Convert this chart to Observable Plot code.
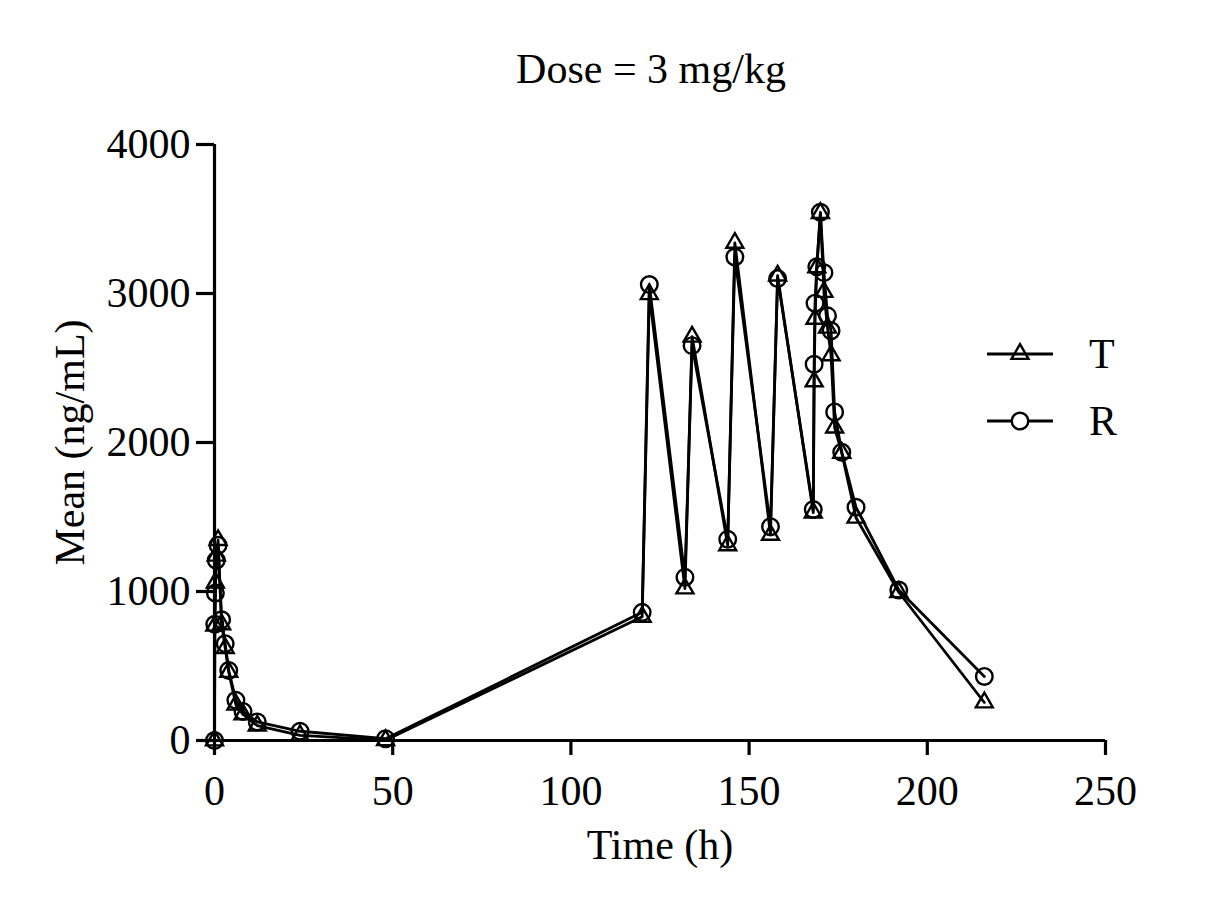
<!DOCTYPE html>
<html>
<head>
<meta charset="utf-8">
<script src="https://cdn.jsdelivr.net/npm/d3@7"></script>
<script src="https://cdn.jsdelivr.net/npm/@observablehq/plot@0.6"></script>
<style>
  html, body { margin: 0; padding: 0; background: #fff; }
  body { font-family: "Liberation Serif", "Times New Roman", serif; color: #000; }
  #wrap { position: relative; width: 1229px; height: 910px; overflow: hidden; }
  #title { position: absolute; left: 351px; top: 48px; width: 600px; text-align: center; font-size: 42px; line-height: 42px; }
  #chart { position: absolute; left: 0; top: 100px; }
  #legend { position: absolute; left: 987px; top: 334px; }
  .row { display: flex; align-items: center; height: 40px; margin-bottom: 27px; }
  .row span { font-size: 42px; line-height: 40px; margin-left: 36px; }
</style>
</head>
<body>
<div id="wrap">
  <div id="title">Dose = 3 mg/kg</div>
  <div id="chart"></div>
  <div id="legend"></div>
</div>
<script>
// Sampling times (h): single dose, then q12h dosing from 120 h
const times = [0, 0.083, 0.25, 0.5, 1, 2, 3, 4, 6, 8, 12, 24, 48,
  120, 122, 132, 134, 144, 146, 156, 158,
  168, 168.25, 168.5, 169, 170, 171, 172, 173, 174, 176, 180, 192, 216];

// Mean plasma concentration (ng/mL), test formulation
const meanT = [0, 770, 1060, 1240, 1345, 780, 620, 460, 240, 175, 100, 35, 2,
  830, 2995, 1020, 2710, 1310, 3340, 1380, 3120,
  1530, 2410, 2830, 3175, 3540, 3010, 2770, 2585, 2100, 1930, 1495, 995, 255];

// Mean plasma concentration (ng/mL), reference formulation
const meanR = [0, 780, 990, 1210, 1310, 810, 650, 470, 270, 195, 125, 62, 12,
  860, 3060, 1095, 2650, 1350, 3245, 1435, 3100,
  1550, 2525, 2935, 3180, 3545, 3140, 2850, 2750, 2205, 1935, 1565, 1010, 430];

const seriesNames = ["T", "R"];
const seriesSymbols = ["triangle", "circle"];
const xTicks = [0, 50, 100, 150, 200, 250];
const yTicks = [0, 1000, 2000, 3000, 4000];

const seriesValues = {T: meanT, R: meanR};
const rows = seriesNames.flatMap(name =>
  times.map((t, i) => ({time: t, mean: seriesValues[name][i], group: name})));

const symbolSize = {triangle: 6.3, circle: 8.3};

const chart = Plot.plot({
  width: 1229,
  height: 810,
  marginTop: 44,
  marginBottom: 170,
  marginLeft: 214,
  marginRight: 124,
  style: {fontFamily: "Liberation Serif, Times New Roman, serif", fontSize: "42px", color: "#000", background: "#fff"},
  x: {domain: [0, 250]},
  y: {domain: [0, 4000]},
  marks: [
    Plot.axisX({ticks: xTicks, tickSize: 15, tickPadding: 20, strokeWidth: 3.2, tickFormat: d => String(d),
      label: "Time (h)", labelAnchor: "center", labelArrow: "none", labelOffset: 118}),
    Plot.axisY({ticks: yTicks, tickSize: 18, tickPadding: 6, strokeWidth: 3.2, tickFormat: d => String(d),
      label: "Mean (ng/mL)", labelAnchor: "center", labelArrow: "none", labelOffset: 160}),
    Plot.ruleX([0], {stroke: "#000", strokeWidth: 3.2}),
    Plot.ruleY([0], {stroke: "#000", strokeWidth: 3.2}),
    Plot.line(rows, {x: "time", y: "mean", z: "group", stroke: "#000", strokeWidth: 2.8}),
    ...seriesNames.map((name, k) =>
      Plot.dot(rows.filter(d => d.group === name), {
        x: "time", y: "mean", symbol: seriesSymbols[k], r: symbolSize[seriesSymbols[k]],
        fill: "none", stroke: "#000", strokeWidth: 2.4
      }))
  ]
});
document.getElementById("chart").appendChild(chart);

// Legend: line + open symbol per series
const legend = d3.select("#legend");
seriesNames.forEach((name, k) => {
  const row = legend.append("div").attr("class", "row");
  const svg = row.append("svg").attr("width", 66).attr("height", 40);
  svg.append("line").attr("x1", 0).attr("x2", 66).attr("y1", 20).attr("y2", 20)
    .attr("stroke", "#000").attr("stroke-width", 2.8);
  const r = symbolSize[seriesSymbols[k]];
  const shape = seriesSymbols[k] === "triangle" ? d3.symbolTriangle : d3.symbolCircle;
  svg.append("path").attr("transform", "translate(33,20)")
    .attr("d", d3.symbol(shape, Math.PI * r * r)())
    .attr("fill", seriesSymbols[k] === "circle" ? "#fff" : "none")
    .attr("stroke", "#000").attr("stroke-width", 2.4);
  row.append("span").text(name);
});
</script>
</body>
</html>
